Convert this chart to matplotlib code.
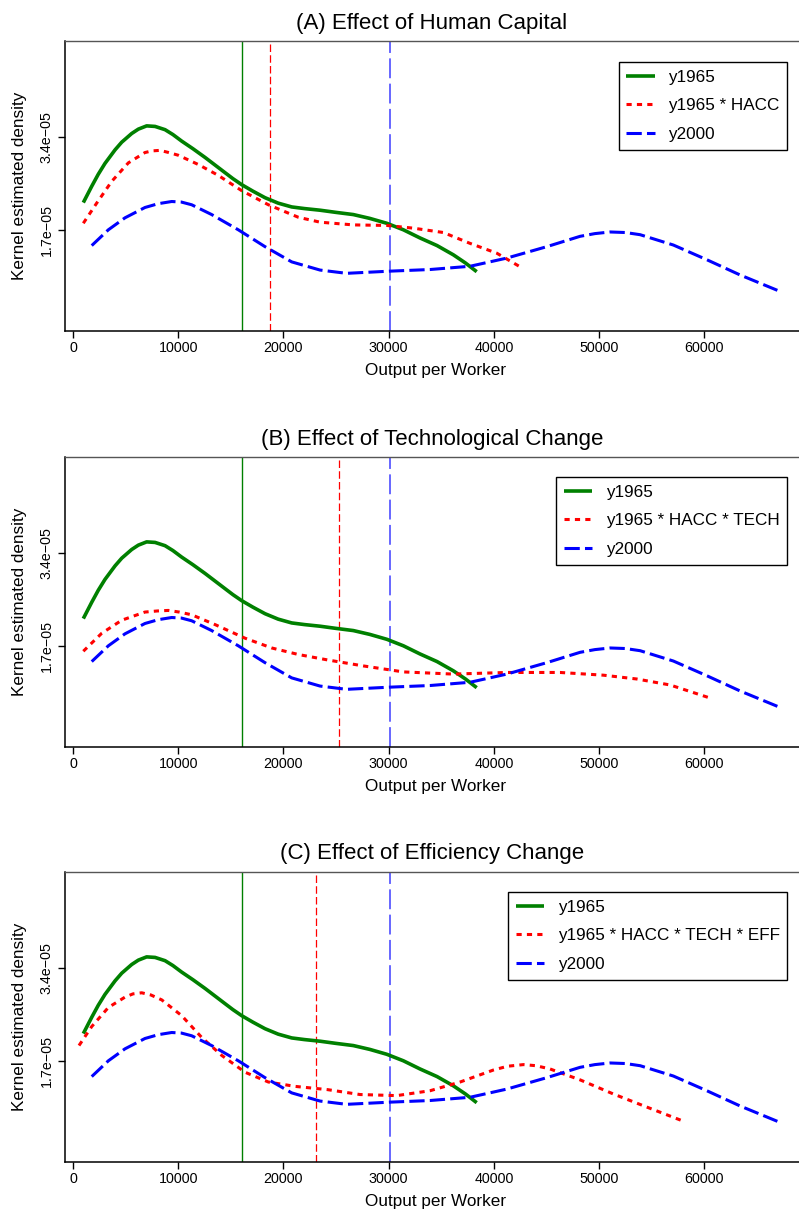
import matplotlib
matplotlib.use("Agg")
import matplotlib.pyplot as plt

plt.rcParams['font.family'] = ['Liberation Sans', 'DejaVu Sans']

# densities in units of 1e-5
y1965_x = [980, 1780, 2400, 3040, 4000, 4630, 5580, 6210, 7000, 7800, 8750, 9500,
           10330, 11400, 12550, 13500, 14450, 15200, 16030, 17100, 18250, 19500,
           20790, 22000, 23480, 25000, 26640, 28200, 29820, 31400, 32980, 34600,
           36150, 37300, 38370]
y1965_y = [2.20, 2.50, 2.72, 2.92, 3.17, 3.31, 3.47, 3.55, 3.61, 3.60, 3.54, 3.45,
           3.33, 3.19, 3.03, 2.89, 2.75, 2.64, 2.53, 2.41, 2.29, 2.19,
           2.12, 2.09, 2.06, 2.02, 1.98, 1.91, 1.82, 1.70, 1.55, 1.41,
           1.24, 1.09, 0.93]

y2000_x = [1780, 3360, 4940, 6840, 8100, 9380, 10300, 11280, 13180, 15710, 18250,
           20790, 23480, 26000, 30130, 33940, 37740, 41230, 45030, 48190, 49600,
           51050, 52500, 53900, 57060, 60240, 63400, 67040]
y2000_y = [1.41, 1.70, 1.92, 2.11, 2.18, 2.22, 2.21, 2.16, 1.98, 1.70, 1.39,
           1.11, 0.96, 0.90, 0.94, 0.97, 1.03, 1.18, 1.39, 1.58, 1.63,
           1.66, 1.65, 1.61, 1.42, 1.15, 0.87, 0.58]

hacc_x = [980, 2250, 3680, 5260, 6840, 7500, 8270, 9100, 10010, 11910, 13810,
          16030, 18570, 21420, 23480, 26640, 29820, 32350, 35200, 37740, 40280,
          42490]
hacc_y = [1.82, 2.19, 2.59, 2.93, 3.12, 3.15, 3.16, 3.12, 3.07, 2.90, 2.70,
          2.42, 2.16, 1.93, 1.84, 1.79, 1.78, 1.73, 1.65, 1.45, 1.27,
          1.02]

tech_x = [980, 2730, 4630, 6840, 8000, 9060, 10100, 11280, 13500, 16350, 18890,
          21420, 24200, 27600, 31400, 36150, 41230, 46290, 50410, 53580, 56750,
          60390]
tech_y = [1.60, 1.93, 2.17, 2.32, 2.34, 2.35, 2.32, 2.27, 2.09, 1.84, 1.66,
          1.54, 1.44, 1.33, 1.22, 1.18, 1.21, 1.21, 1.16, 1.09, 0.98,
          0.75]

eff_x = [570, 1780, 3360, 4940, 5700, 6530, 7400, 8430, 10330, 12230, 14130,
         16350, 18570, 21100, 24200, 27280, 30770, 33940, 36790, 39950, 41300,
         42810, 44000, 45340, 48190, 51360, 54530, 58010]
eff_y = [1.98, 2.33, 2.68, 2.87, 2.93, 2.95, 2.91, 2.82, 2.53, 2.13, 1.80,
         1.49, 1.31, 1.23, 1.17, 1.08, 1.06, 1.15, 1.31, 1.53, 1.60,
         1.63, 1.61, 1.55, 1.35, 1.09, 0.85, 0.59]

# means (vertical lines)
mean_1965 = 16100
mean_2000 = 30100
mean_cf = [18700, 25300, 23100]

titles = ["(A) Effect of Human Capital",
          "(B) Effect of Technological Change",
          "(C) Effect of Efficiency Change"]
cf_labels = ["y1965 * HACC", "y1965 * HACC * TECH", "y1965 * HACC * TECH * EFF"]
cf_x = [hacc_x, tech_x, eff_x]
cf_y = [hacc_y, tech_y, eff_y]

yticks = [1.7e-05, 3.4e-05]
ytick_labels = ["1.7e\u221205", "3.4e\u221205"]
xticks = [0, 10000, 20000, 30000, 40000, 50000, 60000]

W, H = 799, 1211
fig = plt.figure(figsize=(W / 100, H / 100), dpi=100)

tops = [41, 457, 872]
legend_tops = [62, 477, 892]

for i in range(3):
    top = tops[i]
    ax = fig.add_axes([65 / W, 1 - (top + 290) / H, 734 / W, 290 / H])
    sc = 1e-5
    ax.axvline(mean_1965, color='green', lw=1.0, zorder=1)
    ax.axvline(mean_cf[i], color='red', lw=0.9, dashes=(6, 2.6), zorder=1)
    ax.axvline(mean_2000, color='#5a5aff', lw=1.3, dashes=(11, 3), zorder=1)

    ax.plot(y1965_x, [v * sc for v in y1965_y], color='green', lw=2.6,
            solid_capstyle='butt', solid_joinstyle='round', label="y1965", zorder=3)
    ax.plot(cf_x[i], [v * sc for v in cf_y[i]], color='red', lw=2.2,
            dashes=(1.7, 1.7), label=cf_labels[i], zorder=3)
    ax.plot(y2000_x, [v * sc for v in y2000_y], color='blue', lw=2.2,
            dashes=(5, 1.7), label="y2000", zorder=3)

    ax.set_xlim(-760, 69000)
    ax.set_ylim(-0.16e-5, 5.17e-5)
    ax.set_xticks(xticks)
    ax.set_xticklabels([str(t) for t in xticks])
    ax.set_yticks(yticks)
    ax.set_yticklabels(ytick_labels, rotation=90, va='center')
    ax.tick_params(axis='both', direction='out', length=5, width=1,
                   labelsize=10.3, colors='black')
    ax.tick_params(axis='x', pad=2.5)
    ax.tick_params(axis='y', pad=3)

    ax.spines['right'].set_visible(False)
    ax.spines['top'].set_color('#555555')
    ax.spines['top'].set_linewidth(1.0)
    ax.spines['left'].set_linewidth(1.1)
    ax.spines['bottom'].set_linewidth(1.1)

    ax.set_title(titles[i], fontsize=16, pad=9)
    ax.set_xlabel("Output per Worker", fontsize=12.3)
    ax.xaxis.set_label_coords(0.505, -0.11)
    ax.set_ylabel("Kernel estimated density", fontsize=12.3)
    ax.yaxis.set_label_coords(-0.052, 0.5)

    leg_top = (top + 290 - legend_tops[i]) / 290
    leg = ax.legend(loc='upper right', bbox_to_anchor=(0.984, leg_top),
                    borderaxespad=0, fontsize=12.3, frameon=True, fancybox=False,
                    handlelength=1.65, labelspacing=0.8, borderpad=0.45,
                    handletextpad=0.8)
    leg.get_frame().set_edgecolor('black')
    leg.get_frame().set_linewidth(1.0)
    leg.get_frame().set_alpha(1)

fig.savefig("out.png", dpi=100)
